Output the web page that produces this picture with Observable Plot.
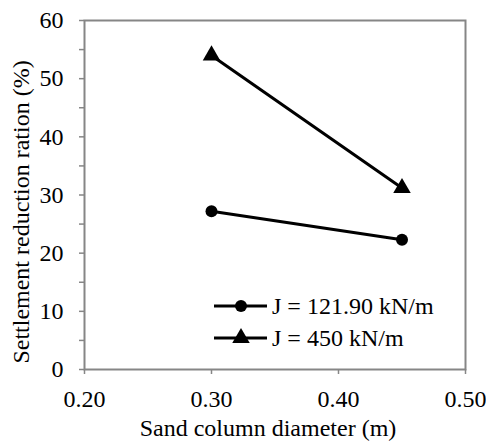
<!DOCTYPE html>
<html>
<head>
<meta charset="utf-8">
<script src="https://cdn.jsdelivr.net/npm/d3@7"></script>
<script src="https://cdn.jsdelivr.net/npm/@observablehq/plot@0.6"></script>
<style>
  html, body { margin: 0; padding: 0; background: white; }
  #chart { position: relative; width: 486px; height: 441px; }
  #chart, #chart svg, #chart svg text, #legend, #legend span { font-family: 'Liberation Serif', serif !important; }
  #legend { position: absolute; left: 213px; top: 290px; font-size: 24px; color: black; }
  .row { display: flex; align-items: center; height: 32px; }
  .row svg { display: block; }
  .row span { margin-left: 4px; line-height: 32px; }
</style>
</head>
<body>
<div id="chart"></div>
<script>
const diameters = [0.30, 0.45];
const seriesNames = ["J = 121.90 kN/m", "J = 450 kN/m"];
const seriesSymbols = ["circle", "triangle"];
const j121 = [27.2, 22.3];
const j450 = [54.0, 31.2];
const xTicks = [0.20, 0.30, 0.40, 0.50];
const yTicks = [0, 5, 10, 15, 20, 25, 30, 35, 40, 45, 50, 55, 60];
const xLabel = "Sand column diameter (m)";
const yLabel = "Settlement reduction ration (%)";

const data = [
  ...diameters.map((d, i) => ({d, v: j121[i], series: seriesNames[0]})),
  ...diameters.map((d, i) => ({d, v: j450[i], series: seriesNames[1]}))
];

const grey = "#868686";
const chart = Plot.plot({
  width: 486,
  height: 441,
  marginLeft: 84,
  marginRight: 21,
  marginTop: 20,
  marginBottom: 72,
  style: {fontFamily: "Liberation Serif", fontSize: "24px", color: "black", background: "white"},
  x: {domain: [0.2, 0.5]},
  y: {domain: [0, 60]},
  symbol: {domain: seriesNames, range: seriesSymbols},
  marks: [
    Plot.frame({stroke: grey, strokeWidth: 2}),
    Plot.axisY({ticks: yTicks, tickSize: 5, tickPadding: 16, stroke: grey, strokeWidth: 1.5, fill: "black",
      tickFormat: d => d % 10 === 0 ? String(d) : "", label: null}),
    Plot.axisX({ticks: xTicks, tickSize: 5, tickPadding: 15, stroke: grey, strokeWidth: 1.5, fill: "black",
      tickFormat: d3.format(".2f"), label: null}),
    Plot.text([yLabel], {text: d => d, frameAnchor: "left", rotate: -90, textAnchor: "middle", lineAnchor: "middle",
      dx: -63, dy: 17, fill: "black", fontSize: 24}),
    Plot.text([xLabel], {text: d => d, frameAnchor: "bottom", textAnchor: "middle", lineAnchor: "bottom",
      dx: -7, dy: 66, fill: "black", fontSize: 24}),
    Plot.line(data, {x: "d", y: "v", z: "series", stroke: "black", strokeWidth: 3}),
    Plot.dot(data.filter(r => r.series === seriesNames[0]), {x: "d", y: "v", symbol: "series", fill: "black", r: 6}),
    Plot.dot(data.filter(r => r.series === seriesNames[1]), {x: "d", y: "v", symbol: "series", fill: "black", r: 6.5})
  ]
});
const container = document.getElementById("chart");
container.appendChild(chart);

// legend
const legend = document.createElement("div");
legend.id = "legend";
seriesNames.forEach((name, i) => {
  const row = document.createElement("div");
  row.className = "row";
  const sym = d3.symbol(seriesSymbols[i] === "circle" ? d3.symbolCircle : d3.symbolTriangle, (i === 0 ? 6 : 6.5) ** 2 * Math.PI)();
  row.innerHTML = `<svg width="55" height="32"><line x1="1" x2="54" y1="16" y2="16" stroke="black" stroke-width="3"/><path d="${sym}" transform="translate(28,16)" fill="black"/></svg><span>${name}</span>`;
  legend.appendChild(row);
});
container.appendChild(legend);
</script>
</body>
</html>
